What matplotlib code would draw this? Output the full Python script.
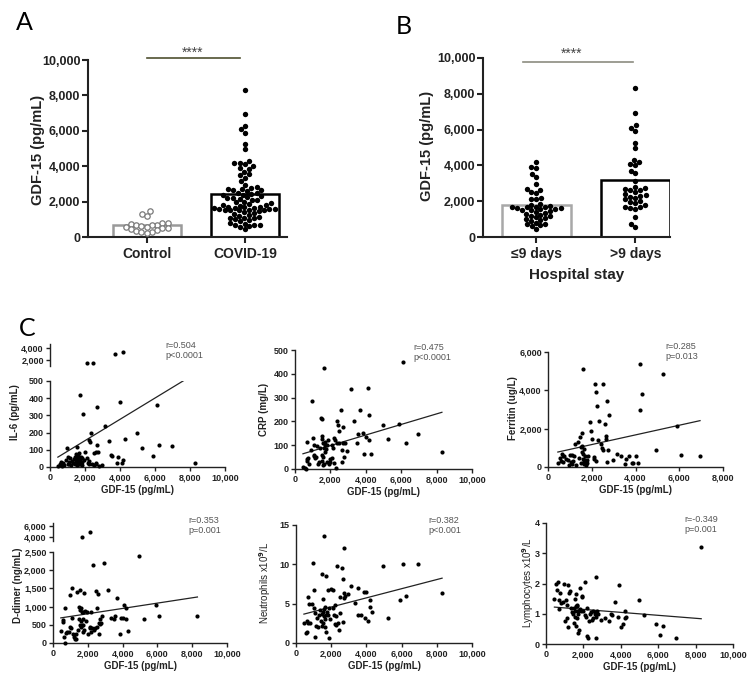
import numpy as np
import matplotlib.pyplot as plt
from matplotlib.ticker import FuncFormatter

# ---- data: GDF-15 (pg/mL) per group ----
control = [1450, 1300, 1200, 800, 800, 750, 700, 650, 650, 600,
           550, 550, 500, 500, 450, 400, 350, 300, 300, 250]
le9_days = [4200, 3900, 3850, 3500, 3350, 2950, 2700, 2650, 2500, 2450,
            2200, 2150, 2100, 1850, 1800, 1750, 1700, 1700, 1650, 1650,
            1600, 1600, 1550, 1550, 1500, 1500, 1450, 1400, 1350, 1300,
            1250, 1200, 1150, 1100, 1050, 1000, 950, 900, 800, 750,
            700, 650, 600, 450]
gt9_days = [8300, 6950, 6250, 6100, 5900, 5250, 4950, 4300, 4200, 4100,
            4000, 3700, 3550, 3150, 2800, 2750, 2700, 2650, 2600, 2500,
            2400, 2350, 2300, 2250, 2200, 2100, 2000, 1950, 1900, 1800,
            1700, 1650, 1600, 1550, 1100, 700, 550]
covid = le9_days + gt9_days

# ---- panel C: markers paired with the sorted GDF-15 values ----
gdf = sorted(covid)
nan = np.nan
il6 = [5, 20, 10, 30, 15, 5, 25, 10, 40, 110, 20, 60, 15, 30, 50, 10, 35, 25, 45, 20,
       60, 30, 75, 115, 40, 10, 55, 25, 70, 35, 80, 15, 420, 45, 20, 60, 30, 50, 10, 310,
       40, 90, 55, 1500, 25, 15, 35, 155, 145, 195, 20, 1550, 80, 10, 85, 25, 15, 130, 350, 85,
       5, 10, 240, 150, 70, 65, 3000, 25, 60, 380, 25, 40, 3350, 165, 200, 110, 65, 360, 130, 120,
       25]
crp = [10, 5, 0, 35, 115, 40, 45, 20, 80, 285, 130, 60, 55, 100, 45, 50, 95, 20, 30, 90,
       215, 60, 125, 210, 140, 35, 110, 50, 15, 90, 425, 20, 115, 70, 100, 85, 100, 30, 120, 20,
       40, 30, 100, 45, 90, 130, 25, 120, 5, 110, 200, 185, 160, 110, 250, 80, 30, 175, 110, 50,
       110, 75, 335, 200, 110, 145, 250, 150, 65, 135, 340, 120, 225, 65, 185, 125, 190, 450, 110, 145,
       70]
ferritin = [200, 450, 300, 700, 550, 250, 600, 400, 350, 100, 650, 250, 650, 150, 300, 550, 1200, 100, 1300, 450,
            1550, 1050, 200, 1800, 1100, 800, 700, 5100, 400, 950, 300, 150, 350, 250, 600, 100, 350, 200, 550, 2350,
            1900, 1450, 500, 400, 4350, 3900, 300, 3200, 1400, 2400, 1200, 1000, 4350, 900, 2250, 1600, 1450, 3450, 250, 900,
            2700, 350, 700, 550, 150, 400, 550, 200, 200, 600, 200, 3000, 5350, 3800, 900, 4850, 2150, 650, nan, 600,
            nan]
ddimer = [330, 620, 580, 170, 950, 0, 280, 300, 300, 1320, 440, 400, 1500, 700, 250, 170, 100, 120, 240, 1400,
          350, 1000, 650, 1450, 500, 900, 450, 950, 600, 850, 4000, 500, 850, 300, 650, 500, 1380, 350, 870, 600,
          850, 250, 400, 5000, 450, 850, 300, 400, 2150, 350, 400, 1420, 960, 450, 1350, 250, 550, 660, 520, 550,
          750, 2200, 1460, 680, 650, 750, 1250, 250, 680, 700, 1050, 950, 660, 320, 2400, 650, 1050, 740, nan, nan,
          750]
neutrophils = [2.5, 1.3, 1.4, 2.8, 5.8, 2.6, 5.0, 2.5, 4.9, 10.2, 6.7, 4.4, 0.7, 3.8, 2.2, 3.2, 2.0, 3.6, 4.2, 2.8,
               8.8, 3.7, 2.2, 5.6, 3.9, 2.5, 3.4, 13.6, 4.3, 2.0, 3.1, 4.6, 8.5, 3.5, 1.4, 4.0, 3.5, 6.7, 4.4, 0.6,
               3.0, 6.9, 4.5, 6.7, 3.6, 2.4, 4.8, 3.4, 2.3, 9.8, 2.5, 1.6, 5.8, 3.8, 9.5, 8.1, 2.7, 6.4, 12.1, 5.7,
               6.0, 6.2, 7.3, 5.1, 3.6, 7.0, 3.5, 6.5, 3.2, 6.5, 2.8, 4.6, 5.5, 4.0, 9.8, 3.2, 5.5, 10.0, 6.0, 10.1,
               6.4]
lymphocytes = [1.5, 2.0, 1.8, 2.05, 1.15, 1.45, 1.7, 1.35, 1.4, 2.0, 0.75, 1.45, 0.85, 1.3, 0.55, 1.95, 1.7, 1.75, 1.2, 1.05,
               1.0, 0.7, 1.2, 1.5, 0.9, 1.1, 1.65, 0.6, 1.25, 1.25, 0.85, 1.3, 0.35, 1.1, 1.0, 0.45, 1.85, 1.15, 1.1, 1.55,
               1.6, 1.1, 2.05, 0.95, 0.9, 0.25, 1.2, 0.2, 0.75, 1.0, 1.05, 0.8, 0.85, 1.1, 1.0, 2.2, 0.9, 0.2, 1.05, 1.1,
               1.0, 0.8, 0.85, 0.75, 1.0, 0.95, 1.4, 0.9, 1.95, 0.55, 0.65, 1.1, 0.85, 0.9, 1.45, 0.95, 0.65, 0.3, 0.6, 0.2,
               3.2]

# regression lines: slope, intercept
il6_fit = [0.0619, 29.5]
crp_fit = [0.0222, 54]
ferritin_fit = [0.252, 667]
ddimer_fit = [0.0731, 657]
neutrophils_fit = [0.000582, 3.41]
lymphocytes_fit = [-0.000049, 1.242]

il6_stats = "r=0.504\np<0.0001"
crp_stats = "r=0.475\np<0.0001"
ferritin_stats = "r=0.285\np=0.013"
ddimer_stats = "r=0.353\np=0.001"
neutrophils_stats = "r=0.382\np<0.001"
lymphocytes_stats = "r=-0.349\np=0.001"

# ---- figure ----
plt.rcParams['font.family'] = ['Liberation Sans', 'DejaVu Sans']
plt.rcParams['font.weight'] = 'bold'
plt.rcParams['axes.labelweight'] = 'bold'
INK = '#222222'

W, H = 747, 683
fig = plt.figure(figsize=(W / 100, H / 100), dpi=100)


def box(l, t, r, b):
    return [l / W, 1 - b / H, (r - l) / W, (b - t) / H]


comma = FuncFormatter(lambda v, p: f"{v:,.0f}")


def style(ax, lw=1.0, fs=6.5):
    for s in ('top', 'right'):
        ax.spines[s].set_visible(False)
    for s in ('left', 'bottom'):
        ax.spines[s].set_linewidth(lw)
        ax.spines[s].set_color(INK)
    ax.tick_params(width=lw, length=3, labelsize=fs, color=INK, labelcolor=INK, pad=1.5)
    ax.yaxis.set_major_formatter(comma)


def swarm_offsets(values, px_per_val, d, lim):
    """beeswarm offsets in pixels; points beyond lim are allowed to overlap"""
    vals = np.asarray(values, dtype=float)
    cands = np.arange(-lim, lim + 0.01, 0.5)
    cands = cands[np.argsort(np.abs(cands), kind='stable')]
    placed = []
    out = np.zeros(len(vals))
    for i in np.argsort(vals):
        y = vals[i] * px_per_val
        if not placed:
            out[i] = 0
            placed.append((0.0, y))
            continue
        P = np.array(placed)
        dist = np.sqrt((cands[:, None] - P[None, :, 0]) ** 2 + (y - P[None, :, 1]) ** 2).min(axis=1)
        free = np.nonzero(dist >= d)[0]
        x = cands[free[0]] if len(free) else cands[np.argmax(dist)]
        out[i] = x
        placed.append((x, y))
    return out


def bar_panel(rect, groups, names, edges, xlim, unit_px, sig_x, sig_y, sig_color, star_x, star_y):
    ax = fig.add_axes(rect)
    means = [np.mean(g) for g in groups]
    ax.bar(range(2), means, width=0.7, color='white', edgecolor=edges, linewidth=1.8, zorder=0)
    px_per_val = rect[3] * H / 10000
    dots = []
    for i, g in enumerate(groups):
        off = swarm_offsets(g, px_per_val, 5.2, 31)
        dots.append(ax.scatter(i + off / unit_px, g, s=15, color='black', linewidths=0,
                               zorder=3, clip_on=False))
    ax.set_xlim(*xlim)
    ax.set_ylim(0, 10000)
    ax.set_xticks([0, 1])
    ax.set_xticklabels(names)
    ax.set_yticks(range(0, 10001, 2000))
    style(ax, lw=1.5, fs=9)
    ax.tick_params(axis='x', labelsize=10, pad=3, length=4)
    ax.tick_params(axis='y', length=4)
    ax.plot(sig_x, [sig_y, sig_y], color=sig_color, lw=1.2, clip_on=False)
    ax.text(star_x, star_y, "****", ha='center', va='center', fontsize=10,
            fontweight='normal', color='#444444')
    return ax, dots


# panel A
axA, dotsA = bar_panel(box(88, 60, 287, 237), [control, covid], ["Control", "COVID-19"],
                       ['#9a9a9a', 'black'], (-0.6, 1.43), 98, [0, 0.95], 10100, '#4f5030', 0.47, 10400)
dotsA[0].set_facecolor('white')
dotsA[0].set_edgecolor('#7a7a7a')
dotsA[0].set_linewidth(0.9)
fig.text(38 / W, 1 - 150 / H, "GDF-15 (pg/mL)", rotation=90, ha='center', va='center',
         fontsize=10.5, color=INK)

# panel B
axB, _ = bar_panel(box(483, 58, 670, 237), [le9_days, gt9_days], ["≤9 days", ">9 days"],
                   ['#a8a8a8', 'black'], (-0.54, 1.35), 100, [-0.14, 0.98], 9780, '#8c8c80', 0.36, 10250)
axB.set_xlabel("Hospital stay", fontsize=11, color=INK, labelpad=5)
fig.text(427 / W, 1 - 146 / H, "GDF-15 (pg/mL)", rotation=90, ha='center', va='center',
         fontsize=10.5, color=INK)

for letter, x, y in [("A", 16, 30), ("B", 396, 34), ("C", 19, 336)]:
    fig.text(x / W, 1 - y / H, letter, fontsize=18, fontweight='normal',
             family='Lato', color='black')

x_all = np.array(gdf, dtype=float)


def scatter_panel(rect, y, fit, xmax, ylim, yticks, stats, stats_xy, ylabel, ylabel_xy,
                  ylabel_weight='bold', upper=None):
    y = np.array(y, dtype=float)
    ok = ~np.isnan(y)
    x, y = x_all[ok], y[ok]
    low = y <= ylim[1]
    ax = fig.add_axes(rect)
    ax.scatter(x[low], y[low], s=9, color='black', linewidths=0, clip_on=False, zorder=3)
    xs = np.array([x.min(), x.max()])
    ax.plot(xs, fit[0] * xs + fit[1], color=INK, lw=0.9)
    ax.set_xlim(0, xmax)
    ax.set_ylim(*ylim)
    ax.set_xticks(range(0, xmax + 1, 2000))
    ax.set_yticks(yticks)
    style(ax)
    ax.xaxis.set_major_formatter(comma)
    ax.set_xlabel("GDF-15 (pg/mL)", fontsize=7, color=INK, labelpad=2)
    if upper is not None:
        urect, ulim, uticks = upper
        ux = fig.add_axes(urect)
        ux.scatter(x[~low], y[~low], s=9, color='black', linewidths=0, clip_on=False, zorder=3)
        ux.set_xlim(0, xmax)
        ux.set_ylim(*ulim)
        ux.set_yticks(uticks)
        style(ux)
        ux.spines['bottom'].set_visible(False)
        ux.set_xticks([])
        ux.patch.set_alpha(0)
    fig.text(stats_xy[0] / W, 1 - stats_xy[1] / H, stats, ha='left', va='top', fontsize=6.5,
             fontweight='normal', color='#555555', linespacing=1.15)
    fig.text(ylabel_xy[0] / W, 1 - ylabel_xy[1] / H, ylabel, rotation=90, ha='center',
             va='center', fontsize=7, fontweight=ylabel_weight, color=INK)
    return ax


scatter_panel(box(50, 381, 225, 467), il6, il6_fit, 10000, (0, 500), range(0, 501, 100),
              il6_stats, (165, 341), "IL-6 (pg/mL)", (15, 412),
              upper=(box(50, 344, 225, 366), (1000, 4600), [2000, 4000]))
scatter_panel(box(295, 350, 472, 469), crp, crp_fit, 10000, (0, 500), range(0, 501, 100),
              crp_stats, (413, 343), "CRP (mg/L)", (264, 409))
scatter_panel(box(548, 352, 723, 467), ferritin, ferritin_fit, 8000, (0, 6000), range(0, 6001, 2000),
              ferritin_stats, (665, 342), "Ferritin (ug/L)", (513, 408))
scatter_panel(box(53, 552, 227, 643), ddimer, ddimer_fit, 10000, (0, 2500), range(0, 2501, 500),
              ddimer_stats, (188, 516), "D-dimer (ng/mL)", (18, 585),
              upper=(box(53, 523, 227, 541), (3270, 6550), [4000, 6000]))
scatter_panel(box(296, 525, 472, 643), neutrophils, neutrophils_fit, 10000, (0, 15), range(0, 16, 5),
              neutrophils_stats, (428, 516), "Neutrophils x10$^9$/L", (265, 583), ylabel_weight='normal')
scatter_panel(box(546, 523, 733, 644), lymphocytes, lymphocytes_fit, 10000, (0, 4), range(0, 5),
              lymphocytes_stats, (684, 515), "Lymphocytes x10$^9$/L", (528, 583), ylabel_weight='normal')

fig.savefig("out.png", dpi=100)
